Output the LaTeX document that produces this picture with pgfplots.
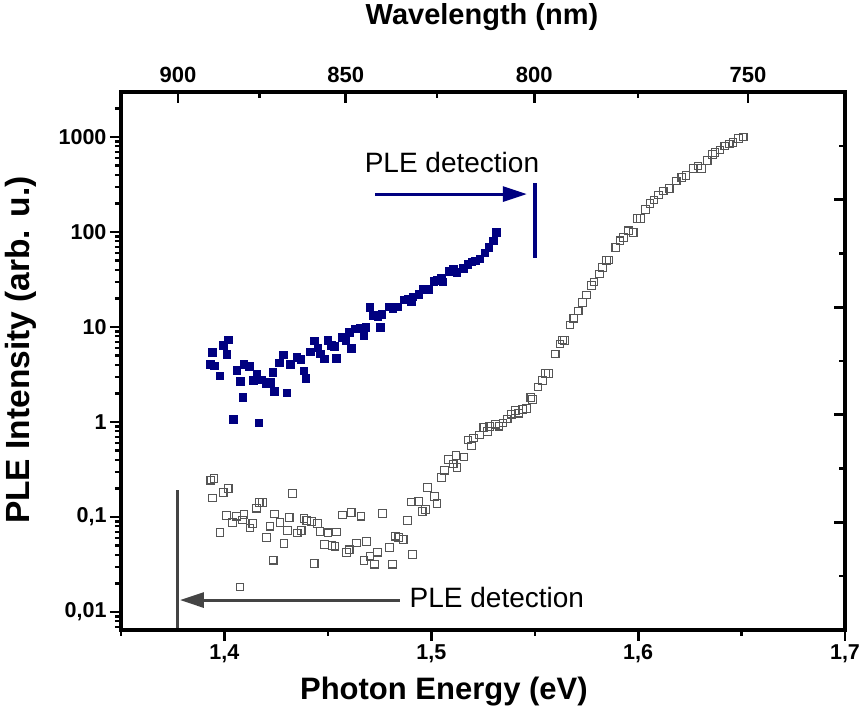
\documentclass[border=0pt]{standalone}
\usepackage{pgfplots}
\pgfplotsset{compat=1.18}
\usepackage{fontspec}
\setmainfont{Liberation Sans}
\usetikzlibrary{arrows.meta}
\definecolor{navyb}{RGB}{0,0,128}
\definecolor{darkg}{RGB}{68,68,68}
\definecolor{markg}{RGB}{85,85,85}

\pgfplotstableread{
E y
1.3930 4.08
1.3942 5.45
1.3950 3.92
1.3978 3.07
1.3993 6.42
1.4011 5.20
1.4018 7.33
1.4041 1.07
1.4059 3.51
1.4075 2.70
1.4088 1.82
1.4094 4.08
1.4120 3.88
1.4138 2.77
1.4156 3.18
1.4166 0.98
1.4180 2.80
1.4203 2.57
1.4220 2.62
1.4233 3.34
1.4241 2.11
1.4266 4.20
1.4285 5.11
1.4301 2.03
1.4317 4.05
1.4349 4.81
1.4368 4.60
1.4383 3.46
1.4392 2.89
1.4416 5.48
1.4434 7.21
1.4451 6.08
1.4463 5.26
1.4482 4.63
1.4500 7.30
1.4517 6.42
1.4531 6.26
1.4539 4.72
1.4567 7.79
1.4586 7.30
1.4603 8.80
1.4612 6.01
1.4631 9.60
1.4655 9.83
1.4674 8.18
1.4683 10.0
1.4703 16.1
1.4719 13.3
1.4741 12.8
1.4752 10.0
1.4761 13.7
1.4797 16.4
1.4813 15.7
1.4837 16.4
1.4866 19.4
1.4889 19.9
1.4903 18.6
1.4910 20.8
1.4939 22.1
1.4958 25.1
1.4984 24.9
1.5011 30.5
1.5029 31.3
1.5048 33.0
1.5056 30.0
1.5084 38.6
1.5106 40.5
1.5123 37.9
1.5154 41.8
1.5176 45.7
1.5196 48.7
1.5211 49.9
1.5235 52.4
1.5258 60.6
1.5277 69.0
1.5298 80.9
1.5314 100
}\bluedata

\pgfplotstableread{
E y
1.3934 0.244
1.3943 0.159
1.3950 0.256
1.3979 0.0687
1.3994 0.182
1.4011 0.104
1.4018 0.200
1.4040 0.0881
1.4059 0.102
1.4075 0.0184
1.4088 0.0929
1.4094 0.106
1.4123 0.0766
1.4137 0.0859
1.4156 0.124
1.4168 0.143
1.4185 0.143
1.4204 0.0612
1.4221 0.0800
1.4236 0.0351
1.4243 0.108
1.4268 0.0881
1.4288 0.0526
1.4304 0.0718
1.4313 0.0993
1.4330 0.177
1.4352 0.0679
1.4371 0.0721
1.4384 0.0971
1.4398 0.0919
1.4420 0.0901
1.4434 0.0326
1.4450 0.0859
1.4462 0.0704
1.4484 0.0517
1.4501 0.0682
1.4520 0.0501
1.4535 0.0493
1.4542 0.0695
1.4571 0.105
1.4589 0.0425
1.4603 0.0452
1.4613 0.112
1.4638 0.0532
1.4660 0.102
1.4674 0.0350
1.4687 0.0552
1.4704 0.0387
1.4725 0.0319
1.4741 0.0426
1.4764 0.109
1.4797 0.0480
1.4813 0.0319
1.4827 0.0628
1.4843 0.0611
1.4864 0.0582
1.4886 0.0925
1.4903 0.144
1.4910 0.0403
1.4939 0.146
1.4956 0.114
1.4973 0.120
1.4982 0.205
1.5015 0.164
1.5028 0.138
1.5049 0.262
1.5063 0.311
1.5084 0.405
1.5106 0.361
1.5119 0.446
1.5125 0.334
1.5158 0.428
1.5178 0.647
1.5194 0.559
1.5203 0.679
1.5232 0.730
1.5254 0.879
1.5271 0.794
1.5283 0.897
1.5310 0.948
1.5328 0.904
1.5346 0.976
1.5367 1.08
1.5388 1.21
1.5408 1.33
1.5423 1.24
1.5441 1.35
1.5461 1.38
1.5481 1.81
1.5490 1.73
1.5516 2.34
1.5537 2.75
1.5551 3.26
1.5567 3.26
1.5599 5.20
1.5622 6.62
1.5635 7.30
1.5643 7.18
1.5670 10.5
1.5689 12.4
1.5710 14.7
1.5730 18.2
1.5751 21.7
1.5775 27.2
1.5786 29.8
1.5812 36.1
1.5828 42.5
1.5847 49.9
1.5859 50.7
1.5892 69.0
1.5912 80.9
1.5928 88.0
1.5954 103
1.5976 99.3
1.5995 138
1.6012 138
1.6036 173
1.6057 200
1.6076 217
1.6099 245
1.6121 270
1.6150 288
1.6184 344
1.6211 377
1.6231 395
1.6266 469
1.6290 495
1.6307 469
1.6334 563
1.6360 651
1.6371 690
1.6395 730
1.6419 804
1.6440 844
1.6459 879
1.6484 960
1.6508 1000
}\graydata

\pgfplotsset{
  frame/.style={
    at={(0pt,0pt)}, anchor=south west,
    width=724pt, height=538pt, scale only axis,
    xmin=1.35, xmax=1.7,
    axis line style={line width=3.2pt, black},
    major tick style={line width=2.8pt, black},
    minor tick style={line width=2.4pt, black},
    major tick length=11pt, minor tick length=6pt,
  }
}

\begin{document}
\begin{tikzpicture}
\path[use as bounding box] (-121pt,-90pt) rectangle (743pt,630pt);
\begin{axis}[
  frame,
  ymode=log, ymin=0.00647, ymax=2979,
  tick align=outside,
  xtick pos=bottom, ytick pos=left,
  xtick={1.4,1.5,1.6,1.7},
  xticklabels={{1,4},{1,5},{1,6},{1,7}},
  minor xtick={1.35,1.45,1.55,1.65},
  ytick={0.01,0.1,1,10,100,1000},
  yticklabels={{0,01},{0,1},1,10,100,1000},
  minor ytick={0.007,0.008,0.009,0.02,0.03,0.04,0.05,0.06,0.07,0.08,0.09,0.2,0.3,0.4,0.5,0.6,0.7,0.8,0.9,2,3,4,5,6,7,8,9,20,30,40,50,60,70,80,90,200,300,400,500,600,700,800,900,2000},
  ticklabel style={font=\fontsize{21.5}{24}\selectfont\bfseries},
  xlabel={Photon Energy (eV)}, ylabel={PLE Intensity (arb. u.)},
  xlabel style={font=\fontsize{31}{36}\selectfont\bfseries, at={(axis description cs:0.446,-0.115)}, anchor=center},
  ylabel style={font=\fontsize{33.5}{38}\selectfont\bfseries, at={(axis description cs:-0.138,0.52)}, anchor=center},
  clip=false,
]
\addplot[only marks, mark=square*, mark size=3.8pt, color=navyb, line width=0.4pt] table[x=E,y=y]{\bluedata};
\addplot[only marks, mark=square, mark size=3.8pt, color=markg, line width=1.1pt, mark options={line width=1.1pt, fill=white}] table[x=E,y=y]{\graydata};
% annotations
\draw[navyb, line width=3pt, -{Triangle[length=24pt,width=15pt]}] (axis cs:1.4728,251) -- (axis cs:1.5462,251);
\draw[navyb, line width=4pt] (axis cs:1.5501,328) -- (axis cs:1.5501,53.3);
\node[font=\fontsize{28}{32}\selectfont] at (axis cs:1.5100,546) {PLE detection};
\draw[darkg, line width=3pt, -{Triangle[length=24pt,width=15pt]}] (axis cs:1.4848,0.01337) -- (axis cs:1.3785,0.01337);
\draw[darkg, line width=3pt] (axis cs:1.37755,0.192) -- (axis cs:1.37755,0.00647);
\node[font=\fontsize{28}{32}\selectfont] at (axis cs:1.5317,0.01438) {PLE detection};
\draw[black, line width=3.2pt, line join=miter] (rel axis cs:0,0) rectangle (rel axis cs:1,1);
\end{axis}
\begin{axis}[
  frame,
  ymin=0, ymax=5,
  tick align=inside,
  xtick pos=upper, ytick pos=right,
  xticklabel pos=upper,
  xtick={1.37760,1.45864,1.54980,1.65312},
  xticklabels={900,850,800,750},
  minor xtick={1.41696,1.50284,1.59979},
  ytick={0,1,2,3,4,5}, yticklabels={},
  minor ytick={0.5,1.5,2.5,3.5,4.5},
  ticklabel style={font=\fontsize{22}{24}\selectfont\bfseries},
  xticklabel style={yshift=6pt},
  xlabel={Wavelength (nm)},
  xlabel style={font=\fontsize{29}{34}\selectfont\bfseries, at={(axis description cs:0.4986,1.139)}, anchor=center},
]
\end{axis}
\end{tikzpicture}
\end{document}
